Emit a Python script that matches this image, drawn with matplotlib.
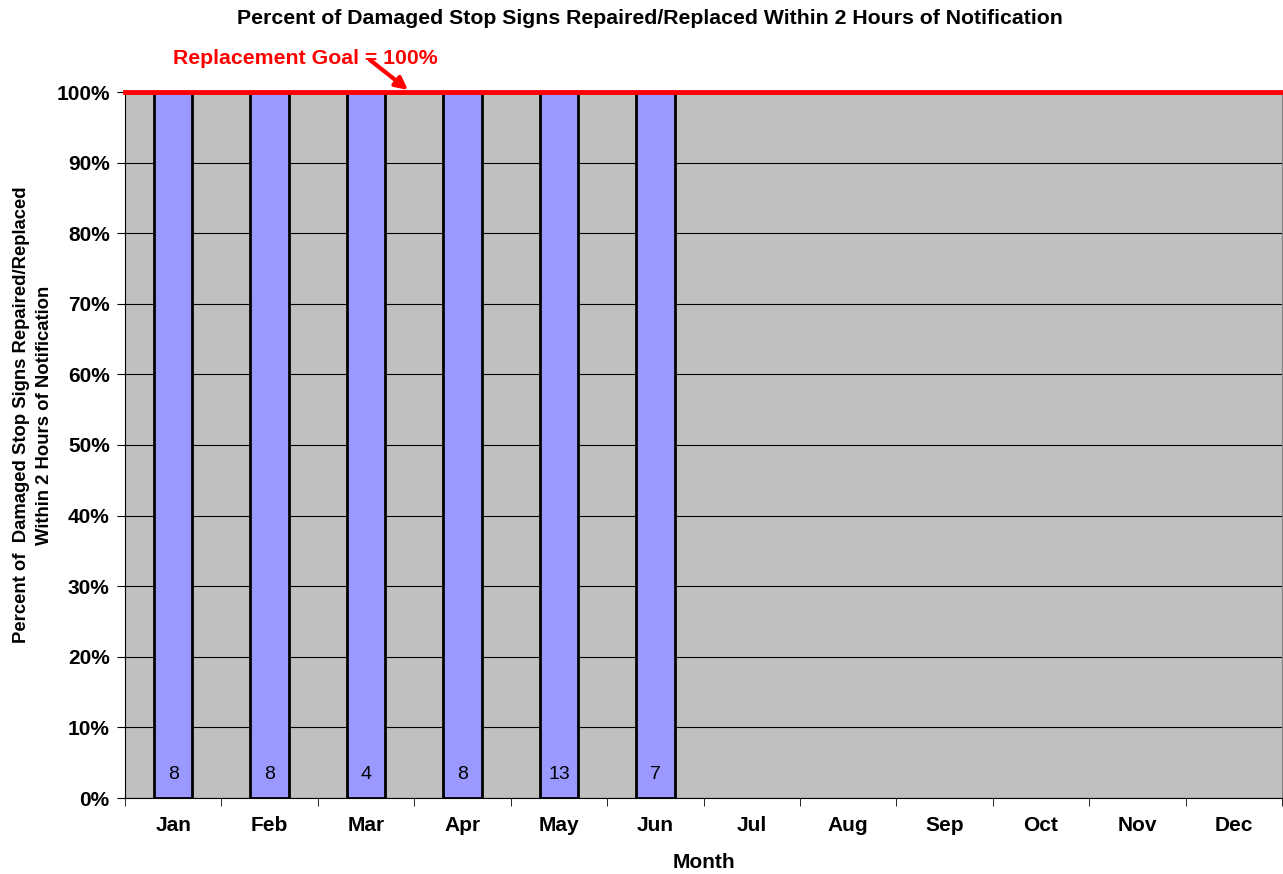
import matplotlib
matplotlib.use("Agg")
import matplotlib.pyplot as plt
from matplotlib.ticker import FixedLocator, PercentFormatter

months = ["Jan", "Feb", "Mar", "Apr", "May", "Jun", "Jul", "Aug", "Sep", "Oct", "Nov", "Dec"]
percent_repaired = [100, 100, 100, 100, 100, 100]
counts = [8, 8, 4, 8, 13, 7]
goal = 100

plt.rcParams['font.family'] = ['Liberation Sans', 'DejaVu Sans']

W, H = 1283, 874
fig = plt.figure(figsize=(W / 100, H / 100), dpi=100)
ax = fig.add_axes([125/W, 1-798/H, 1157/W, (798-92)/H])
ax.set_facecolor("#C0C0C0")

x = list(range(len(months)))
ax.set_xlim(-0.5, len(months) - 0.5)
ax.set_ylim(0, 100)

ax.yaxis.grid(True, color="black", linewidth=0.8)
ax.set_axisbelow(True)

ax.bar(x[:len(percent_repaired)], percent_repaired, width=0.4,
       color="#9999FF", edgecolor="black", linewidth=2, zorder=2)
for xi, c in zip(x, counts):
    ax.text(xi, 3.3, str(c), ha="center", va="center", fontsize=14, zorder=3)

ax.axhline(goal, color="#FF0000", linewidth=3.5, zorder=4, clip_on=False)

ax.set_yticks(range(0, 101, 10))
ax.yaxis.set_major_formatter(PercentFormatter(decimals=0))
ax.set_xticks(x)
ax.set_xticklabels(months)
ax.xaxis.set_minor_locator(FixedLocator([i - 0.5 for i in range(len(months) + 1)]))
ax.tick_params(axis="x", which="major", length=0, pad=13)
ax.tick_params(axis="x", which="minor", length=6, direction="out")
ax.tick_params(axis="y", length=6, direction="out", pad=5)
for lbl in ax.get_xticklabels() + ax.get_yticklabels():
    lbl.set_fontweight("bold")
    lbl.set_fontsize(15)

ax.spines["top"].set_visible(False)
ax.spines["right"].set_color("#808080")
ax.spines["left"].set_color("black")
ax.spines["bottom"].set_color("black")

ax.set_xlabel("Month", fontsize=15, fontweight="bold", labelpad=13)

fig.text(33/W, 1-415/H,
         "Percent of  Damaged Stop Signs Repaired/Replaced\nWithin 2 Hours of Notification",
         rotation=90, ha="center", va="center", multialignment="center",
         fontsize=13.3, fontweight="bold", linespacing=1.4)

fig.text(650/W, 1-18/H, "Percent of Damaged Stop Signs Repaired/Replaced Within 2 Hours of Notification",
         ha="center", va="center", fontsize=15.3, fontweight="bold")

fig.text(305/W, 1-58/H, "Replacement Goal = 100%", ha="center", va="center",
         color="#FF0000", fontsize=15.3, fontweight="bold")
ax.annotate("", xy=(408/W, 1-90/H), xycoords="figure fraction",
            xytext=(370/W, 1-60/H), textcoords="figure fraction",
            arrowprops=dict(arrowstyle="-|>", color="#FF0000", lw=3, mutation_scale=18,
                            shrinkA=0, shrinkB=0),
            annotation_clip=False)

fig.savefig("out.png", dpi=100)
